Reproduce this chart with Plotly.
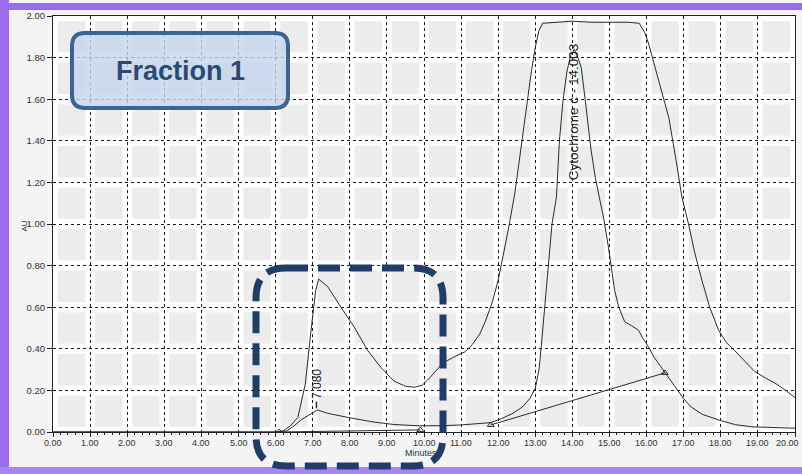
import plotly.graph_objects as go

# ---------------- data ----------------
total_t = [0, 6.0, 6.2, 6.4, 6.6, 6.8, 6.95, 7.08, 7.16, 7.4, 7.76, 8.1, 8.49, 8.84, 9.19, 9.5, 9.75,
           9.95, 10.1, 10.3, 10.5, 10.8, 11.1, 11.3, 11.5, 11.65, 11.85, 12.0, 12.27, 12.45, 12.6,
           12.76, 12.9, 13.0, 13.1, 13.2, 13.5, 14.0, 14.5, 15.0, 15.5, 15.8, 15.95, 16.05, 16.3,
           16.6, 16.8, 16.95, 17.13, 17.3, 17.49, 17.7, 17.94, 18.15, 18.38, 18.65, 18.92, 19.2,
           19.46, 19.75, 20.0]
total_au = [0, 0.0, 0.005, 0.03, 0.07, 0.23, 0.48, 0.68, 0.735, 0.70, 0.60, 0.51, 0.39, 0.31, 0.245,
            0.22, 0.215, 0.225, 0.25, 0.29, 0.33, 0.36, 0.385, 0.42, 0.47, 0.53, 0.63, 0.73, 0.97,
            1.15, 1.35, 1.55, 1.74, 1.85, 1.93, 1.965, 1.97, 1.975, 1.97, 1.97, 1.97, 1.965, 1.92,
            1.87, 1.71, 1.51, 1.30, 1.13, 1.0, 0.86, 0.73, 0.60, 0.49, 0.43, 0.39, 0.34, 0.29,
            0.26, 0.235, 0.2, 0.165]

cyt_t = [0, 6.0, 6.3, 6.5, 6.7, 7.0, 7.13, 7.4, 7.7, 8.03, 8.65, 9.19, 9.84, 10.46, 11.0, 11.5,
         11.8, 12.1, 12.4, 12.65, 12.85, 13.0, 13.1, 13.16, 13.25, 13.35, 13.45, 13.57, 13.65,
         13.75, 13.85, 13.95, 14.05, 14.15, 14.24, 14.37, 14.5, 14.62, 14.73, 14.85, 14.97, 15.05,
         15.14, 15.25, 15.41, 15.6, 15.78, 15.9, 16.05, 16.2, 16.4, 16.55, 16.76, 17.0, 17.2,
         17.5, 17.94, 18.4, 18.84, 19.5, 20.0]
cyt_au = [0, 0.0, 0.005, 0.03, 0.06, 0.09, 0.106, 0.09, 0.078, 0.067, 0.048, 0.036, 0.03, 0.03,
          0.034, 0.04, 0.045, 0.065, 0.09, 0.12, 0.16, 0.21, 0.3, 0.41, 0.6, 0.81, 1.0, 1.13, 1.4,
          1.6, 1.73, 1.81, 1.84, 1.8, 1.75, 1.56, 1.36, 1.22, 1.12, 1.02, 0.89, 0.78, 0.68, 0.60,
          0.53, 0.51, 0.49, 0.45, 0.41, 0.36, 0.31, 0.27, 0.22, 0.16, 0.12, 0.085, 0.058, 0.035,
          0.025, 0.02, 0.018]

base1_t = [6.1, 9.9]
base1_au = [0.0, 0.01]
base2_t = [11.8, 16.49]
base2_au = [0.034, 0.284]

peak1_label = "7.080"
peak1_t, peak1_au = 7.1, 0.106
peak2_label = "Cytochrome c - 14.003"
peak2_t, peak2_au = 14.03, 1.54

x_ticks = [float(i) for i in range(0, 21)]
y_ticks = [round(0.2 * i, 2) for i in range(0, 11)]

# ---------------- layout helpers ----------------
W, H = 802, 474
PL, PR, PT, PB = 53, 7, 16, 42
pw, ph = W - PL - PR, H - PT - PB


def fx(x):
    return (x - PL) / pw


def fy(y):
    return (H - PB - y) / ph


def rrect(x0, y0, x1, y1, r):
    pts = [
        ("M", [(x0 + r, y0)]), ("L", [(x1 - r, y0)]), ("Q", [(x1, y0), (x1, y0 + r)]),
        ("L", [(x1, y1 - r)]), ("Q", [(x1, y1), (x1 - r, y1)]), ("L", [(x0 + r, y1)]),
        ("Q", [(x0, y1), (x0, y1 - r)]), ("L", [(x0, y0 + r)]), ("Q", [(x0, y0), (x0 + r, y0)]),
    ]
    s = ""
    for cmd, ps in pts:
        s += cmd + " " + " ".join(f"{fx(a):.5f},{fy(b):.5f}" for a, b in ps) + " "
    return s + "Z"


FONT = "Liberation Sans, Arial, sans-serif"
fig = go.Figure()
line_col = "#2b2b2b"
fig.add_trace(go.Scatter(x=total_t, y=total_au, mode="lines",
                         line=dict(color=line_col, width=1), hoverinfo="skip"))
fig.add_trace(go.Scatter(x=cyt_t, y=cyt_au, mode="lines",
                         line=dict(color=line_col, width=1), hoverinfo="skip"))
for bt, ba in [(base1_t, base1_au), (base2_t, base2_au)]:
    fig.add_trace(go.Scatter(x=bt, y=ba, mode="lines+markers",
                             line=dict(color=line_col, width=1),
                             marker=dict(symbol="triangle-up-open", size=6, color=line_col),
                             hoverinfo="skip"))

shapes = []
# light grey cells
for i in range(20):
    for j in range(10):
        shapes.append(dict(type="rect", xref="x", yref="y", layer="below",
                           x0=i + 0.13, x1=i + 0.87, y0=j * 0.2 + 0.025, y1=j * 0.2 + 0.175,
                           fillcolor="#ececec", line=dict(width=0)))
# peak tick
shapes.append(dict(type="line", xref="x", yref="y", x0=peak1_t, x1=peak1_t,
                   y0=peak1_au + 0.008, y1=peak1_au + 0.04, line=dict(color=line_col, width=1.5)))

# purple frame
purple = "#9a6cf0"
shapes.append(dict(type="rect", xref="paper", yref="paper", x0=fx(0), x1=fx(9), y0=fy(0), y1=fy(474),
                   fillcolor=purple, line=dict(width=0)))
shapes.append(dict(type="rect", xref="paper", yref="paper", x0=fx(0), x1=fx(802), y0=fy(3), y1=fy(10),
                   fillcolor=purple, line=dict(width=0)))
shapes.append(dict(type="rect", xref="paper", yref="paper", x0=fx(0), x1=fx(802), y0=fy(467), y1=fy(474),
                   fillcolor="#a585f2", line=dict(width=0)))

# Fraction 1 box
shapes.append(dict(type="path", xref="paper", yref="paper", path=rrect(72, 33, 288, 108, 13),
                   fillcolor="rgba(196,213,236,0.8)", line=dict(color="#3b6493", width=4)))
# dashed highlight box
shapes.append(dict(type="path", xref="paper", yref="paper", path=rrect(256, 268, 443, 466, 30),
                   fillcolor="rgba(0,0,0,0)", line=dict(color="#1f3d68", width=7, dash="22px,10px")))

annotations = [
    dict(text="<b>Fraction 1</b>", xref="paper", yref="paper", x=fx(180), y=fy(71), showarrow=False,
         font=dict(family=FONT, size=27, color="#2b4a72"), xanchor="center", yanchor="middle"),
    dict(text=peak1_label, x=peak1_t, y=peak1_au + 0.045, xref="x", yref="y", textangle=-90,
         showarrow=False, yanchor="bottom", xanchor="center",
         font=dict(family=FONT, size=12, color="#222")),
    dict(text=peak2_label, x=peak2_t, y=peak2_au, xref="x", yref="y", textangle=-90,
         showarrow=False, font=dict(family=FONT, size=13.5, color="#222")),
    dict(text="AU", xref="paper", yref="paper", x=fx(17), y=fy(226), textangle=-90, showarrow=False,
         font=dict(family=FONT, size=8, color="#333")),
    dict(text="Minutes", xref="paper", yref="paper", x=fx(421), y=fy(460), showarrow=False,
         font=dict(family=FONT, size=9, color="#333")),
]
for v in x_ticks:
    ann = dict(text=f"{v:.2f}", x=v, xref="x", y=fy(443), yref="paper",
               showarrow=False, xanchor="center", yanchor="middle",
               font=dict(family=FONT, size=9, color="#333"))
    if v == x_ticks[-1]:
        ann.update(x=fx(801), xref="paper", xanchor="right")
    annotations.append(ann)

grid = dict(showgrid=True, gridcolor="#1a1a1a", gridwidth=1.4, griddash="dot")
fig.update_layout(
    width=W, height=H, margin=dict(l=PL, r=PR, t=PT, b=PB),
    paper_bgcolor="#f4f4f4", plot_bgcolor="#ffffff", showlegend=False,
    shapes=shapes, annotations=annotations,
    font=dict(family=FONT, size=9, color="#333"),
    xaxis=dict(range=[0, 20], tickvals=x_ticks, showticklabels=False,
               showline=True, linecolor="#222", linewidth=1, mirror=True,
               ticks="outside", ticklen=4, tickcolor="#222", zeroline=False,
               minor=dict(ticks="outside", dtick=0.2, ticklen=2, tickcolor="#222"), **grid),
    yaxis=dict(range=[0, 2.0], tickvals=y_ticks, ticktext=[f"{v:.2f}" for v in y_ticks],
               showline=True, linecolor="#222", linewidth=1, mirror=True,
               ticks="outside", ticklen=5, tickcolor="#222", zeroline=False,
               tickfont=dict(size=9.5), **grid),
)

fig.write_html("out.html", config={"displayModeBar": False},
               post_script="document.body.style.margin='0';document.body.style.overflow='hidden';")
